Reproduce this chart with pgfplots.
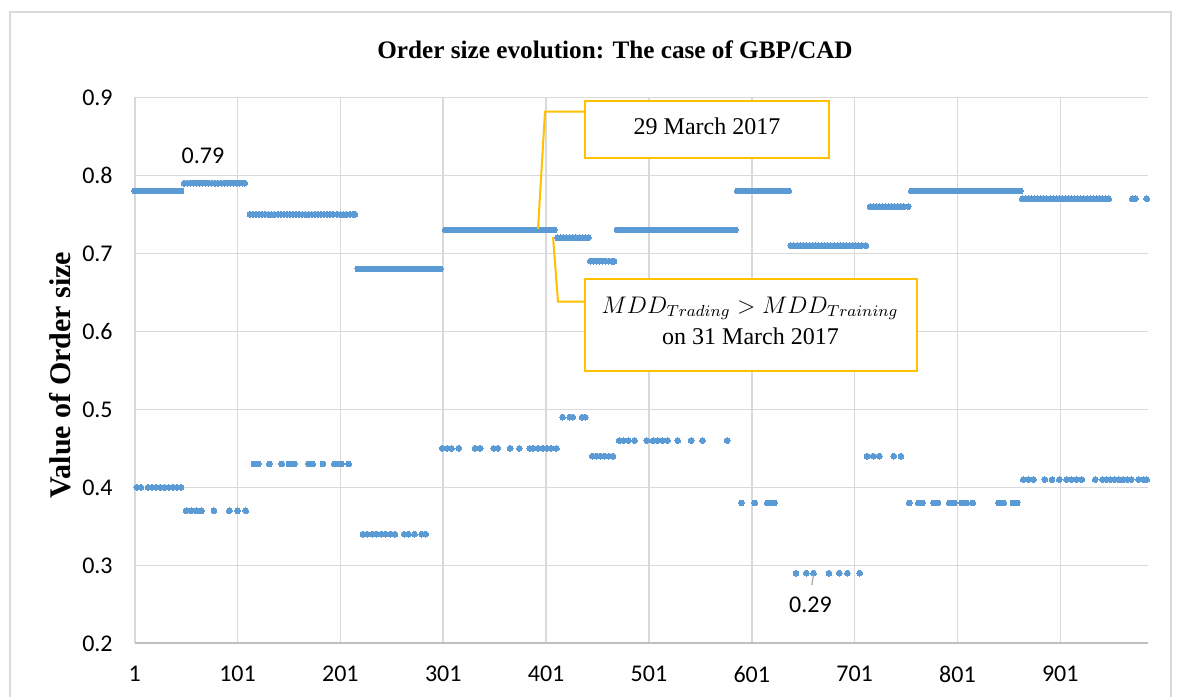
\documentclass[border=0pt]{standalone}
\usepackage{fontspec}
\setmainfont{Liberation Serif}
\newfontfamily\calibri{Carlito}
\usepackage{pgfplots}
\pgfplotsset{compat=1.18}
\definecolor{dotblue}{HTML}{5B9BD5}
\definecolor{gridgrey}{HTML}{D9D9D9}
\definecolor{axisgrey}{HTML}{BFBFBF}
\definecolor{gold}{HTML}{FFC000}
\definecolor{leadergrey}{HTML}{A6A6A6}
\pgfplotsset{dots/.style={only marks, mark=*, mark size=1.45pt, mark options={fill=dotblue, draw=dotblue, line width=0pt}}}
\begin{document}
\begin{tikzpicture}[x=0.5pt,y=0.5pt]
\useasboundingbox (0,0) rectangle (1181,696);
\fill[white] (0,0) rectangle (1181,696);
\draw[gridgrey, line width=0.6pt] (10,-5) -- (10,684) -- (1171,684) -- (1171,-5);
\begin{axis}[
  at={(131,67.5)}, anchor=south west,
  scale only axis, width=506.5pt, height=273pt,
  xmin=1, xmax=986, ymin=0.2, ymax=0.9,
  clip=false,
  axis x line=bottom, axis y line=left,
  axis line style={-},
  x axis line style={draw=axisgrey, line width=1pt},
  y axis line style={draw=none},
  xtick={1,101,201,301,401,501,601,701,801,901},
  xticklabels={1,101,201,301,401,501,601,701,801,901},
  ytick={0.2,0.3,0.4,0.5,0.6,0.7,0.8,0.9},
  yticklabels={0.2,0.3,0.4,0.5,0.6,0.7,0.8,0.9},
  /pgf/number format/assume math mode=true,
  major tick length=0pt,
  tick style={draw=none},
  grid=major,
  grid style={draw=gridgrey, line width=0.8pt},
  xticklabel style={font=\calibri\fontsize{12}{14}\selectfont, yshift=-8pt},
  yticklabel style={font=\calibri\fontsize{12}{14}\selectfont, anchor=east, xshift=-7.5pt},
]
% upper levels
\addplot[dots] coordinates {
(1,0.78)(4,0.78)(7,0.78)(10,0.78)(13,0.78)(16,0.78)(19,0.78)(22,0.78)(25,0.78)(28,0.78)(31,0.78)(34,0.78)(37,0.78)(40,0.78)(43,0.78)(46,0.78)
(49,0.79)(52,0.79)(55,0.79)(58,0.79)(61,0.79)(64,0.79)(67,0.79)(70,0.79)(73,0.79)(76,0.79)(79,0.79)(82,0.79)(85,0.79)(88,0.79)(91,0.79)(94,0.79)(97,0.79)(100,0.79)(103,0.79)(106,0.79)(108,0.79)
(113,0.75)(116,0.75)(119,0.75)(122,0.75)(125,0.75)(128,0.75)(131,0.75)(134,0.75)(137,0.75)(140,0.75)(143,0.75)(146,0.75)(149,0.75)(152,0.75)(155,0.75)(158,0.75)(161,0.75)(164,0.75)(167,0.75)(170,0.75)(173,0.75)(176,0.75)(179,0.75)(182,0.75)(185,0.75)(188,0.75)(191,0.75)(194,0.75)(198,0.75)(201,0.75)(204,0.75)(207,0.75)(210,0.75)(213,0.75)(215,0.75)
(218,0.68)(221,0.68)(224,0.68)(227,0.68)(230,0.68)(233,0.68)(236,0.68)(239,0.68)(242,0.68)(245,0.68)(248,0.68)(251,0.68)(254,0.68)(257,0.68)(260,0.68)(263,0.68)(266,0.68)(269,0.68)(272,0.68)(275,0.68)(278,0.68)(281,0.68)(284,0.68)(287,0.68)(290,0.68)(293,0.68)(296,0.68)(298,0.68)
(303,0.73)(306,0.73)(309,0.73)(312,0.73)(315,0.73)(318,0.73)(321,0.73)(324,0.73)(327,0.73)(330,0.73)(333,0.73)(336,0.73)(339,0.73)(342,0.73)(345,0.73)(348,0.73)(351,0.73)(354,0.73)(357,0.73)(360,0.73)(363,0.73)(366,0.73)(369,0.73)(372,0.73)(375,0.73)(378,0.73)(381,0.73)(384,0.73)(387,0.73)(390,0.73)(393,0.73)(396,0.73)(399,0.73)(402,0.73)(405,0.73)(409,0.73)
(412,0.72)(415,0.72)(418,0.72)(421,0.72)(424,0.72)(427,0.72)(430,0.72)(433,0.72)(436,0.72)(439,0.72)(442,0.72)
(444,0.69)(447,0.69)(450,0.69)(453,0.69)(456,0.69)(459,0.69)(462,0.69)(465,0.69)(467,0.69)
(470,0.73)(473,0.73)(476,0.73)(479,0.73)(482,0.73)(485,0.73)(488,0.73)(491,0.73)(494,0.73)(497,0.73)(500,0.73)(503,0.73)(506,0.73)(509,0.73)(512,0.73)(515,0.73)(518,0.73)(521,0.73)(524,0.73)(527,0.73)(530,0.73)(533,0.73)(536,0.73)(539,0.73)(542,0.73)(545,0.73)(548,0.73)(551,0.73)(554,0.73)(557,0.73)(560,0.73)(563,0.73)(566,0.73)(569,0.73)(572,0.73)(575,0.73)(578,0.73)(581,0.73)(585,0.73)
(587,0.78)(590,0.78)(593,0.78)(596,0.78)(599,0.78)(602,0.78)(605,0.78)(608,0.78)(611,0.78)(614,0.78)(617,0.78)(620,0.78)(623,0.78)(626,0.78)(629,0.78)(632,0.78)(635,0.78)(637,0.78)
(639,0.71)(642,0.71)(645,0.71)(648,0.71)(651,0.71)(654,0.71)(657,0.71)(660,0.71)(663,0.71)(666,0.71)(669,0.71)(672,0.71)(675,0.71)(678,0.71)(681,0.71)(684,0.71)(687,0.71)(690,0.71)(693,0.71)(696,0.71)(699,0.71)(702,0.71)(705,0.71)(708,0.71)(712,0.71)
(716,0.76)(719,0.76)(722,0.76)(725,0.76)(728,0.76)(731,0.76)(734,0.76)(737,0.76)(740,0.76)(743,0.76)(746,0.76)(749,0.76)(753,0.76)
(756,0.78)(759,0.78)(762,0.78)(765,0.78)(768,0.78)(771,0.78)(774,0.78)(777,0.78)(780,0.78)(783,0.78)(786,0.78)(789,0.78)(792,0.78)(795,0.78)(798,0.78)(801,0.78)(804,0.78)(807,0.78)(810,0.78)(813,0.78)(816,0.78)(819,0.78)(822,0.78)(825,0.78)(828,0.78)(831,0.78)(834,0.78)(837,0.78)(840,0.78)(843,0.78)(846,0.78)(849,0.78)(852,0.78)(855,0.78)(858,0.78)(862,0.78)
(864,0.77)(867,0.77)(870,0.77)(873,0.77)(876,0.77)(879,0.77)(882,0.77)(885,0.77)(888,0.77)(891,0.77)(894,0.77)(897,0.77)(900,0.77)(903,0.77)(906,0.77)(909,0.77)(912,0.77)(915,0.77)(918,0.77)(921,0.77)(924,0.77)(927,0.77)(930,0.77)(933,0.77)(936,0.77)(939,0.77)(942,0.77)(945,0.77)(948,0.77)(971,0.77)(974,0.77)(985,0.77)
};
% lower levels
\addplot[dots] coordinates {
(3,0.40)(7,0.40)(14,0.40)(18,0.40)(22,0.40)(26,0.40)(30,0.40)(34,0.40)(38,0.40)(42,0.40)(46,0.40)
(51,0.37)(56,0.37)(61,0.37)(66,0.37)(78,0.37)(93,0.37)(101,0.37)(109,0.37)
(117,0.43)(121,0.43)(132,0.43)(144,0.43)(151,0.43)(156,0.43)(170,0.43)(174,0.43)(184,0.43)(195,0.43)(199,0.43)(202,0.43)(209,0.43)
(223,0.34)(227,0.34)(232,0.34)(236,0.34)(241,0.34)(245,0.34)(250,0.34)(254,0.34)(263,0.34)(267,0.34)(273,0.34)(280,0.34)(284,0.34)
(300,0.45)(305,0.45)(309,0.45)(316,0.45)(332,0.45)(337,0.45)(350,0.45)(354,0.45)(366,0.45)(375,0.45)(385,0.45)(388,0.45)(393,0.45)(398,0.45)(402,0.45)(406,0.45)(411,0.45)
(417,0.49)(424,0.49)(427,0.49)(436,0.49)(439,0.49)
(446,0.44)(450,0.44)(454,0.44)(458,0.44)(462,0.44)(466,0.44)
(472,0.46)(476,0.46)(481,0.46)(487,0.46)(499,0.46)(505,0.46)(509,0.46)(514,0.46)(519,0.46)(529,0.46)(542,0.46)(553,0.46)(577,0.46)
(591,0.38)(604,0.38)(616,0.38)(619,0.38)(623,0.38)
(644,0.29)(654,0.29)(661,0.29)(676,0.29)(686,0.29)(694,0.29)(706,0.29)
(713,0.44)(719,0.44)(725,0.44)(739,0.44)(746,0.44)
(754,0.38)(763,0.38)(767,0.38)(778,0.38)(782,0.38)(793,0.38)(798,0.38)(805,0.38)(810,0.38)(816,0.38)(841,0.38)(846,0.38)(855,0.38)(859,0.38)
(865,0.41)(870,0.41)(875,0.41)(886,0.41)(893,0.41)(900,0.41)(907,0.41)(912,0.41)(917,0.41)(922,0.41)(935,0.41)(942,0.41)(946,0.41)(950,0.41)(954,0.41)(958,0.41)(962,0.41)(966,0.41)(970,0.41)(977,0.41)(982,0.41)(985,0.41)
};
\end{axis}
% title and y label
\node[anchor=base, font=\bfseries\fontsize{12.6}{15}\selectfont] at (615,637) {Order size evolution: The case of GBP/CAD};
\node[rotate=90, anchor=base, font=\bfseries\fontsize{15}{18}\selectfont] at (70,321) {Value of Order size};
% data labels
\node[anchor=base, font=\calibri\fontsize{12}{14}\selectfont, inner sep=0pt] at (203,532) {0.79};
\node[anchor=base, font=\calibri\fontsize{12}{14}\selectfont, inner sep=0pt] at (810.5,83.3) {0.29};
\draw[leadergrey, line width=0.6pt] (811.7,111) -- (813.5,121);
% callouts
\draw[gold, line width=1pt] (585,584.3) -- (545,584.3) -- (538,467);
\draw[gold, line width=1pt] (585,394.3) -- (558,394.3) -- (553,459);
\draw[gold, line width=1.2pt, fill=white] (585,595) rectangle (829,538);
\node[anchor=base, font=\fontsize{12}{14}\selectfont, inner sep=0pt] at (707,561.7) {29 March 2017};
\draw[gold, line width=1.2pt, fill=white] (585,417) rectangle (917,325);
\node[anchor=base, font=\fontsize{12}{14}\selectfont, inner sep=0pt] at (750,382.7) {$MDD_{Trading} > MDD_{Training}$};
\node[anchor=base, font=\fontsize{12}{14}\selectfont, inner sep=0pt] at (750.5,351) {on 31 March 2017};
\end{tikzpicture}
\end{document}
